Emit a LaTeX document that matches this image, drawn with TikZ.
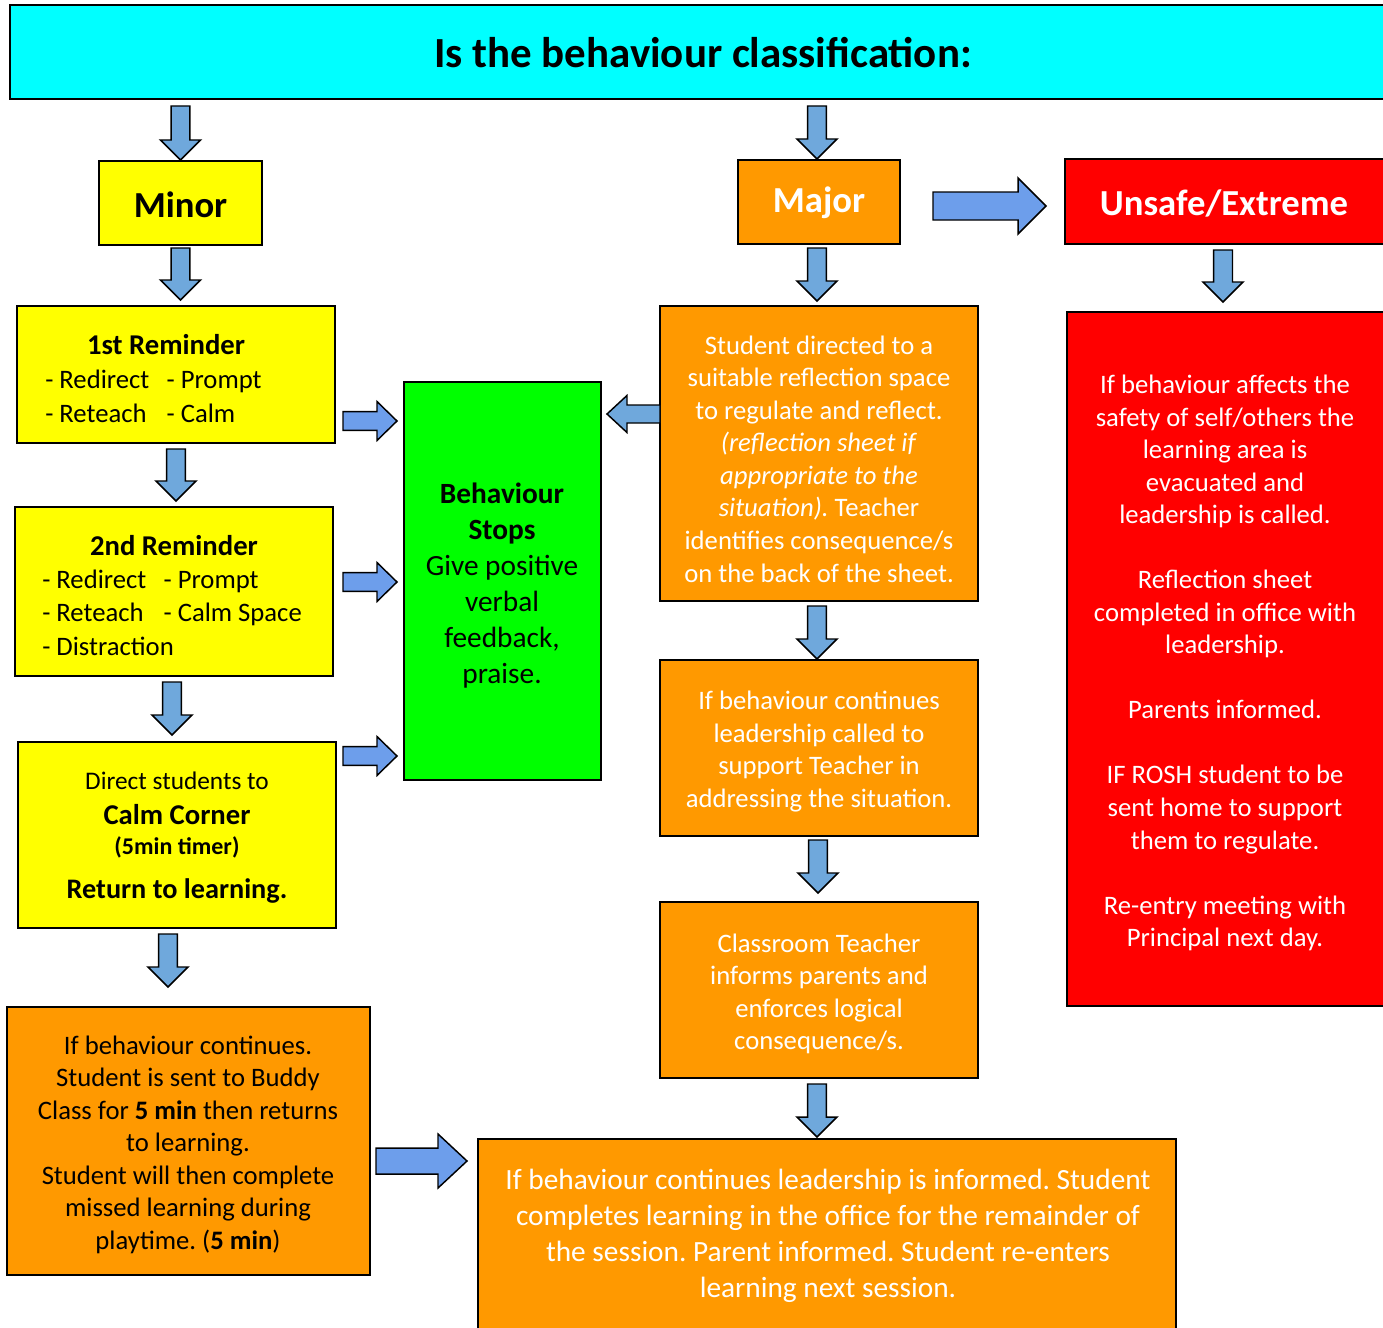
\documentclass[tikz,border=0pt]{standalone}
\usepackage{fontspec}
\setmainfont{Carlito}
\frenchspacing
\usetikzlibrary{calc,fit}
\definecolor{cyanT}{HTML}{00FFFF}
\definecolor{yel}{HTML}{FFFF00}
\definecolor{orn}{HTML}{FF9900}
\definecolor{rd}{HTML}{FF0000}
\definecolor{grn}{HTML}{00FF00}
\definecolor{ablue}{HTML}{6D9EEB}
\definecolor{vblue}{HTML}{6FA8DC}
\tikzset{
 bx/.style={draw=black, line width=1.2pt, inner sep=0pt, outer sep=0pt},
 barrow/.style={draw=black, line width=1.1pt, line join=miter, fill=#1},
 barrow/.default=ablue,
 body/.style={font=\fontsize{20}{24.4}\selectfont, align=center, inner sep=0pt},
 bigt/.style={font=\fontsize{22}{27}\selectfont, align=center, inner sep=0pt},
 head/.style={font=\bfseries\fontsize{27.5}{33}\selectfont, inner sep=0pt},
 lft/.style={font=\fontsize{20}{24.4}\selectfont, anchor=west, inner sep=0pt},
 remhead/.style={font=\bfseries\fontsize{21.5}{26}\selectfont, inner sep=0pt},
}
% [#1 colour]{#2 start}{#3 end}{#4 half shaft}{#5 half head}{#6 head length}
\newcommand\blockarrow[6][ablue]{%
 \path #2 coordinate (ba-s);
 \path #3 coordinate (ba-e);
 \path ($(ba-e)!#6!(ba-s)$) coordinate (ba-h);
 \filldraw[barrow=#1] ($(ba-s)!#4!90:(ba-e)$) -- ($(ba-h)!#4!90:(ba-e)$) -- ($(ba-h)!#5!90:(ba-e)$) -- (ba-e) -- ($(ba-h)!#5!-90:(ba-e)$) -- ($(ba-h)!#4!-90:(ba-e)$) -- ($(ba-s)!#4!-90:(ba-e)$) -- cycle;}
\newcommand\mytab[2]{\makebox[91pt][l]{#1}#2}
\begin{document}
\begin{tikzpicture}[x=0.75pt,y=-0.75pt]
\useasboundingbox (0,0) rectangle (1383,1327);
% boxes
\node[bx, fill=cyanT, fit={(10,5) (1395,99)}] (title) {};
\node[bx, fill=yel, fit={(99,161) (262,245)}] (minor) {};
\node[bx, fill=orn, fit={(738,160) (900,244)}] (major) {};
\node[bx, fill=rd, fit={(1065,159) (1395,244)}] (unsafe) {};
\node[bx, fill=yel, fit={(17,306) (335,443)}] (rem1) {};
\node[bx, fill=yel, fit={(15,507) (333,676)}] (rem2) {};
\node[bx, fill=yel, fit={(18,742) (336,928)}] (calm) {};
\node[bx, fill=orn, fit={(7,1007) (370,1275)}] (buddy) {};
\node[bx, fill=grn, fit={(404,382) (601,780)}] (green) {};
\node[bx, fill=orn, fit={(660,306) (978,601)}] (or1) {};
\node[bx, fill=orn, fit={(660,660) (978,836)}] (or2) {};
\node[bx, fill=orn, fit={(660,902) (978,1078)}] (or3) {};
\node[bx, fill=orn, fit={(478,1139) (1176,1345)}] (office) {};
\node[bx, fill=rd, fit={(1067,312) (1395,1006)}] (unsafeinfo) {};
% texts
\node[font=\bfseries\fontsize{32.2}{38}\selectfont, inner sep=0pt] (titletext) at (703,53) {Is the behaviour classification:};
\node[head] (minortext) at (180.5,205) {Minor};
\node[head, text=white] (majortext) at (819,203) {Major};
\node[head, text=white] (unsafetext) at (1224,203) {Unsafe/Extreme};
% reminder 1
\node[remhead] (r1h) at (166,345) {1st Reminder};
\node[lft] (r1a) at (45,381) {\mytab{- Redirect}{- Prompt}};
\node[lft] (r1b) at (45,413) {\mytab{- Reteach}{- Calm}};
% reminder 2
\node[remhead] (r2h) at (174,546) {2nd Reminder};
\node[lft] (r2a) at (42,581) {\mytab{- Redirect}{- Prompt}};
\node[lft] (r2b) at (42,614) {\mytab{- Reteach}{- Calm Space}};
\node[lft] (r2c) at (42,646) {- Distraction};
% calm corner
\node[font=\fontsize{19}{23}\selectfont, inner sep=0pt] (c1) at (177,781) {Direct students to};
\node[font=\bfseries\fontsize{21.5}{26}\selectfont, inner sep=0pt] (c2) at (177,815) {Calm Corner};
\node[font=\bfseries\fontsize{18}{22}\selectfont, inner sep=0pt] (c3) at (177,847) {(5min timer)};
\node[font=\bfseries\fontsize{21.2}{25}\selectfont, inner sep=0pt] (c4) at (177,891) {Return to learning.};
% buddy
\node[body] (buddytext) at (188,1144.5) {If behaviour continues.\\Student is sent to Buddy\\Class for \textbf{5 min} then returns\\to learning.\\Student will then complete\\missed learning during\\playtime. (\textbf{5 min})};
% green
\node[bigt] (greentext) at (502,586) {\textbf{Behaviour}\\\textbf{Stops}\\Give positive\\verbal\\feedback,\\praise.};
% major column
\node[body, text=white] (or1text) at (819,459) {Student directed to a\\suitable reflection space\\to regulate and reflect.\\\textit{(reflection sheet if}\\\textit{appropriate to the}\\\textit{situation).} Teacher\\identifies consequence/s\\on the back of the sheet.};
\node[body, text=white] (or2text) at (819,751.5) {If behaviour continues\\leadership called to\\support Teacher in\\addressing the situation.};
\node[body, text=white] (or3text) at (819,994) {Classroom Teacher\\informs parents and\\enforces logical\\consequence/s.};
\node[bigt, text=white] (officetext) at (828,1235.5) {If behaviour continues leadership is informed. Student\\completes learning in the office for the remainder of\\the session. Parent informed. Student re-enters\\learning next session.};
% unsafe info
\node[body, text=white] (redtext) at (1225,663) {If behaviour affects the\\safety of self/others the\\learning area is\\evacuated and\\leadership is called.\\[24.4pt]Reflection sheet\\completed in office with\\leadership.\\[24.4pt]Parents informed.\\[24.4pt]IF ROSH student to be\\sent home to support\\them to regulate.\\[24.4pt]Re-entry meeting with\\Principal next day.};
% vertical arrows
\blockarrow[vblue]{($(minor.north |- title.south)+(0,7)$)}{($(minor.north)+(0,-1)$)}{7.1pt}{15pt}{15pt}
\blockarrow[vblue]{($(major.north |- title.south)+(-2,7)$)}{($(major.north)+(-2,-1)$)}{7.1pt}{15pt}{15pt}
\blockarrow[vblue]{($(minor.south)+(0,3)$)}{($(minor.south |- rem1.north)+(0,-6)$)}{7.1pt}{15pt}{15pt}
\blockarrow[vblue]{($(rem1.south)+(0,6)$)}{($(rem1.south |- rem2.north)+(0,-6)$)}{7.1pt}{15pt}{15pt}
\blockarrow[vblue]{($(rem2.south)+(-2,6)$)}{($(rem2.south |- calm.north)+(-2,-7)$)}{7.1pt}{15pt}{15pt}
\blockarrow[vblue]{($(calm.south)+(-9,6)$)}{($(calm.south |- buddy.north)+(-9,-20)$)}{7.1pt}{15pt}{15pt}
\blockarrow[vblue]{($(major.south)+(-2,4)$)}{($(major.south |- or1.north)+(-2,-5)$)}{7.1pt}{15pt}{15pt}
\blockarrow[vblue]{($(or1.south)+(-2,5)$)}{($(or1.south |- or2.north)+(-2,-1)$)}{7.1pt}{15pt}{15pt}
\blockarrow[vblue]{($(or2.south)+(-1,4)$)}{($(or2.south |- or3.north)+(-1,-9)$)}{7.1pt}{15pt}{15pt}
\blockarrow[vblue]{($(or3.south)+(-2,6)$)}{($(or3.south |- office.north)+(-2,-2)$)}{7.1pt}{15pt}{15pt}
\blockarrow[vblue]{($(unsafe.south west)+(158,6)$)}{($(unsafe.south west)+(158,58)$)}{7.1pt}{15pt}{15pt}
% horizontal arrows
\blockarrow{($(rem1.south east)+(8,-22)$)}{($(green.west |- ba-s)+(-7,0)$)}{7.1pt}{14.6pt}{15pt}
\blockarrow{($(rem2.east)+(10,-9.5)$)}{($(green.west |- ba-s)+(-7,0)$)}{7.1pt}{14.6pt}{15pt}
\blockarrow{($(calm.north east)+(7,14)$)}{($(green.west |- ba-s)+(-7,0)$)}{7.1pt}{14.6pt}{15pt}
\blockarrow[vblue]{($(or1.west)+(0,-39.5)$)}{($(green.east |- ba-s)+(6,0)$)}{6.75pt}{13.9pt}{15pt}
\blockarrow{($(major.east)+(33,4)$)}{($(unsafe.west |- ba-s)+(-19,0)$)}{10.5pt}{21pt}{21pt}
\blockarrow{($(buddy.east)+(6,20)$)}{($(office.west |- ba-s)+(-11,0)$)}{9.75pt}{20.25pt}{21.75pt}
\end{tikzpicture}
\end{document}
